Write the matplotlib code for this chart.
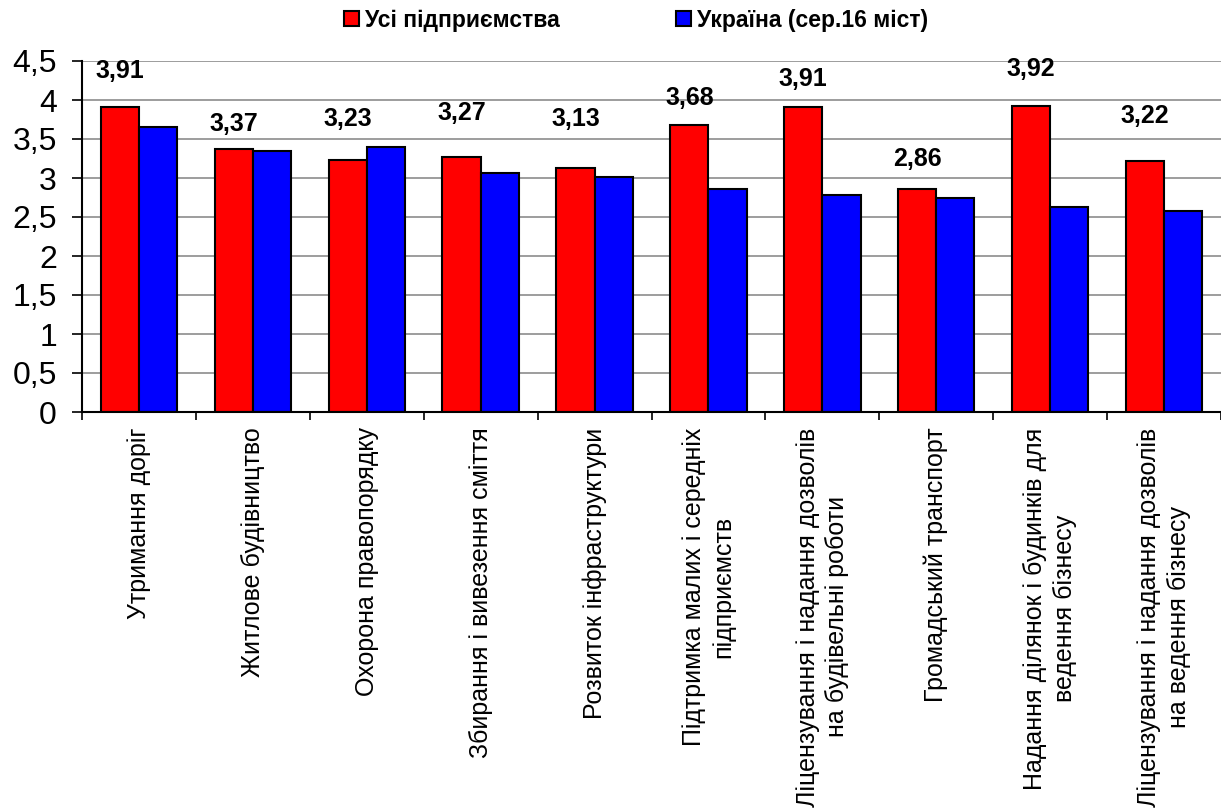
import matplotlib.pyplot as plt
import numpy as np
from matplotlib.patches import Patch


plt.rcParams['font.family'] = ['Liberation Sans', 'DejaVu Sans']

categories = [
    'Утримання доріг',
    'Житлове будівництво',
    'Охорона правопорядку',
    'Збирання і вивезення сміття',
    'Розвиток інфраструктури',
    'Підтримка малих і середніх\nпідприємств',
    'Ліцензування і надання дозволів\nна будівельні роботи',
    'Громадський транспорт',
    'Надання ділянок і будинків для\nведення бізнесу',
    'Ліцензування і надання дозволів\nна ведення бізнесу',
]
all_firms = [3.91, 3.37, 3.23, 3.27, 3.13, 3.68, 3.91, 2.86, 3.92, 3.22]
ukraine = [3.65, 3.35, 3.40, 3.06, 3.01, 2.86, 2.78, 2.75, 2.63, 2.58]
series_names = ['Усі підприємства', 'Україна (сер.16 міст)']
yticks = [0, 0.5, 1, 1.5, 2, 2.5, 3, 3.5, 4, 4.5]
ytick_labels = ['0', '0,5', '1', '1,5', '2', '2,5', '3', '3,5', '4', '4,5']

# where the value labels sit (they were dragged by hand in the original)
label_pos = [4.37, 3.69, 3.76, 3.83, 3.76, 4.02, 4.27, 3.25, 4.40, 3.79]


fig = plt.figure(figsize=(12.21, 8.09), dpi=100)
ax = fig.add_axes([82 / 1221, 1 - 412 / 809, 1 - 82 / 1221, 351 / 809])

x = np.arange(len(categories))
w = 0.335
ax.bar(x - w / 2, all_firms, w, color='#ff0000', edgecolor='black', linewidth=1.5, zorder=3)
ax.bar(x + w / 2, ukraine, w, color='#0000ff', edgecolor='black', linewidth=1.5, zorder=3)

for xi, v, ly in zip(x, all_firms, label_pos):
    ax.text(xi - w / 2, ly, '{:.2f}'.format(v).replace('.', ','), ha='center', va='center',
            fontsize=18, fontweight='bold', zorder=4)

ax.set_xlim(-0.5, len(categories) - 0.5)
ax.set_ylim(0, 4.5)
ax.set_yticks(yticks)
ax.set_yticklabels(ytick_labels, fontsize=23)
ax.tick_params(axis='y', length=7, width=1.2, pad=11)

ax.set_xticks(x)
ax.set_xticklabels(categories, rotation=90, fontsize=18, linespacing=1.28)
ax.tick_params(axis='x', which='major', length=0, pad=11)
ax.set_xticks(np.arange(len(categories) + 1) - 0.5, minor=True)
ax.tick_params(axis='x', which='minor', length=6, width=1.2)

ax.grid(axis='y', color='#8c8c8c', linewidth=1.2, zorder=0)
ax.set_axisbelow(True)
for s in ['top', 'right']:
    ax.spines[s].set_visible(False)
for s in ['left', 'bottom']:
    ax.spines[s].set_linewidth(1.5)
    ax.spines[s].set_zorder(5)

handles = [Patch(facecolor='#ff0000', edgecolor='black', linewidth=1.5),
           Patch(facecolor='#0000ff', edgecolor='black', linewidth=1.5)]
fig.legend(handles, series_names, loc='center', bbox_to_anchor=(636 / 1221, 1 - 20 / 809),
           ncol=2, frameon=False, prop={'weight': 'bold', 'size': 16.5},
           handlelength=0.65, handleheight=0.65, handletextpad=0.25, columnspacing=5.1,
           borderpad=0)

plt.savefig('out.png', dpi=100)
